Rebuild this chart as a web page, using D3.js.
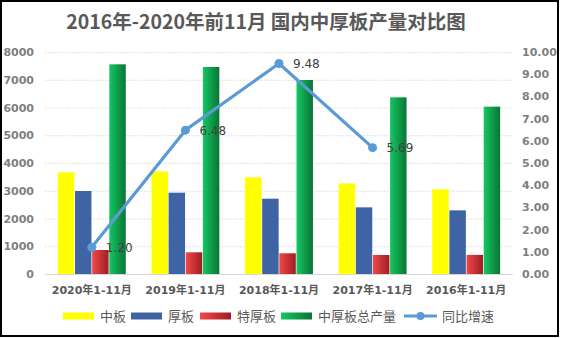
<!DOCTYPE html>
<html><head><meta charset="utf-8">
<script src="https://cdn.jsdelivr.net/npm/d3@7"></script>
<style>body{margin:0;background:#fff}svg{display:block}</style>
</head><body>
<svg id="c" width="562" height="338"></svg>
<script>
const categories = ["2020年1-11月","2019年1-11月","2018年1-11月","2017年1-11月","2016年1-11月"];
const seriesNames = ["中板","厚板","特厚板","中厚板总产量"];
const zhongban = [3665, 3700, 3485, 3268, 3052];
const houban = [2991, 2930, 2714, 2402, 2294];
const tehouban = [865, 782, 746, 685, 690];
const total = [7556, 7460, 6991, 6367, 6030];
const growth = [1.20, 6.48, 9.48, 5.69, null];
const leftTicks = [0,1000,2000,3000,4000,5000,6000,7000,8000];
const rightTicks = [0,1,2,3,4,5,6,7,8,9,10];
const title = "2016年-2020年前11月 国内中厚板产量对比图";
const lineName = "同比增速";

const svg = d3.select("#c");
const defs = svg.append("defs");
function grad(id, c1, c2){
  const g = defs.append("linearGradient").attr("id", id).attr("x1","0%").attr("x2","100%").attr("y1","0%").attr("y2","0%");
  g.append("stop").attr("offset","0%").attr("stop-color",c1);
  g.append("stop").attr("offset","100%").attr("stop-color",c2);
}
grad("gRed", "#F24848", "#9E1E22");
grad("gGreen", "#16C663", "#087534");
const fills = ["#FFFF00", "#3F64A6", "url(#gRed)", "url(#gGreen)"];
const values = [zhongban, houban, tehouban, total];

const L = 45, R = 513, T = 52, B = 274;
const x0 = d3.scaleBand().domain(categories).range([L, R]).paddingInner(0.26).paddingOuter(0.13);
const x1 = d3.scaleBand().domain(seriesNames).range([0, x0.bandwidth()]).padding(0.04);
const y = d3.scaleLinear().domain([0, 8000]).range([B, T]);
const y2 = d3.scaleLinear().domain([0, 10]).range([B, T]);

const font = "'DejaVu Sans','Noto Sans CJK SC',sans-serif";
const cjk = "'Noto Sans CJK SC','DejaVu Sans',sans-serif";

// border
svg.append("rect").attr("x",1).attr("y",1).attr("width",557).attr("height",335)
  .attr("fill","none").attr("stroke","#000").attr("stroke-width",2);

// title
svg.append("text").attr("x", 266).attr("y", 29).attr("text-anchor","middle")
  .attr("font-family", cjk).attr("font-weight","bold").attr("font-size", 19.5)
  .attr("fill","#595959").text(title);

// grid
svg.append("g").selectAll("line").data(leftTicks.filter(d=>d>0)).join("line")
  .attr("x1", L).attr("x2", R).attr("y1", d=>y(d)+0.5).attr("y2", d=>y(d)+0.5)
  .attr("stroke","#D9D9D9").attr("stroke-dasharray","1.5,1.5");

// left axis
const ax = svg.append("g").attr("transform", `translate(${L},0)`)
  .call(d3.axisLeft(y).tickValues(leftTicks).tickSize(0).tickPadding(11).tickFormat(d3.format("d")));
ax.select(".domain").remove();
ax.selectAll("text").attr("font-family", font).attr("font-size", 11).attr("font-weight","bold").attr("fill","#7F7F7F");

// right axis
const ay = svg.append("g").attr("transform", `translate(${R},0)`)
  .call(d3.axisRight(y2).tickValues(rightTicks).tickSize(0).tickPadding(9).tickFormat(d3.format(".2f")));
ay.select(".domain").remove();
ay.selectAll("text").attr("font-family", font).attr("font-size", 11).attr("font-weight","bold").attr("fill","#7F7F7F");

// bars
const groups = svg.append("g").selectAll("g").data(categories).join("g")
  .attr("transform", d=>`translate(${x0(d)},0)`);
groups.selectAll("rect").data((d,i)=>seriesNames.map((s,j)=>({s, v: values[j][i], j}))).join("rect")
  .attr("x", d=>x1(d.s)).attr("width", x1.bandwidth())
  .attr("y", d=>y(d.v)).attr("height", d=>y(0)-y(d.v))
  .attr("fill", d=>fills[d.j]);

// baseline
svg.append("line").attr("x1", L).attr("x2", R).attr("y1", B+0.5).attr("y2", B+0.5)
  .attr("stroke","#D9D9D9").attr("stroke-width",1);

// x labels
const axx = svg.append("g").attr("transform", `translate(0,${B})`)
  .call(d3.axisBottom(x0).tickSize(0).tickPadding(12));
axx.select(".domain").remove();
axx.selectAll("text").attr("font-family", font).attr("font-size", 11).attr("font-weight","bold").attr("fill","#595959");

// line
const pts = categories.map((c,i)=>({c, v: growth[i]})).filter(d=>d.v!=null);
const cx = d=>x0(d.c)+x0.bandwidth()/2;
svg.append("path").datum(pts)
  .attr("d", d3.line().x(cx).y(d=>y2(d.v)))
  .attr("fill","none").attr("stroke","#5B9BD5").attr("stroke-width",3.2).attr("stroke-linejoin","round");
svg.append("g").selectAll("circle").data(pts).join("circle")
  .attr("cx", cx).attr("cy", d=>y2(d.v)).attr("r", 4.5).attr("fill","#5B9BD5");
svg.append("g").selectAll("text").data(pts).join("text")
  .attr("x", d=>cx(d)+14).attr("y", d=>y2(d.v)+4.5)
  .attr("font-family", font).attr("font-size", 12).attr("fill","#404040")
  .text(d=>d3.format(".2f")(d.v));

// legend
const ly = 316;
const legendItems = [
  {name: seriesNames[0], fill: fills[0], x: 63},
  {name: seriesNames[1], fill: fills[1], x: 131},
  {name: seriesNames[2], fill: fills[2], x: 200},
  {name: seriesNames[3], fill: fills[3], x: 281}
];
const lg = svg.append("g");
legendItems.forEach(it=>{
  lg.append("rect").attr("x", it.x).attr("y", ly-3.5).attr("width", 31).attr("height", 7).attr("fill", it.fill);
  lg.append("text").attr("x", it.x+37).attr("y", ly+4.5).attr("font-family", cjk).attr("font-size", 13)
    .attr("fill","#595959").text(it.name);
});
lg.append("line").attr("x1", 404).attr("x2", 437).attr("y1", ly).attr("y2", ly)
  .attr("stroke","#5B9BD5").attr("stroke-width",3);
lg.append("circle").attr("cx", 420.5).attr("cy", ly).attr("r", 4).attr("fill","#5B9BD5");
lg.append("text").attr("x", 442).attr("y", ly+4.5).attr("font-family", cjk).attr("font-size", 13)
  .attr("fill","#595959").text(lineName);
</script>
</body></html>
